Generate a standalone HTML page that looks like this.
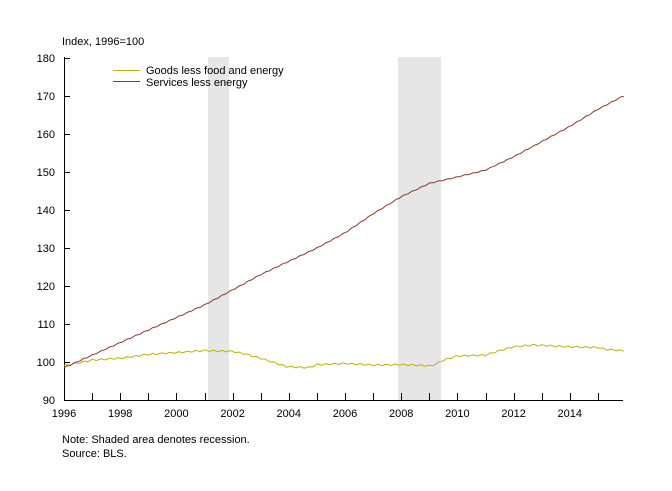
<!DOCTYPE html>
<html><head><meta charset="utf-8"><style>
body{margin:0;background:#fff}
svg{display:block}
text{font-family:"Liberation Sans",Arial,sans-serif;font-size:11px;fill:#000}
</style></head><body>
<svg id="s" width="672" height="491" viewBox="0 0 672 491">
<rect x="208" y="57" width="21" height="343" fill="#e6e6e6"/>
<rect x="398" y="57" width="43" height="343" fill="#e6e6e6"/>
<text x="62" y="45">Index, 1996=100</text>
<line x1="64.5" y1="57" x2="64.5" y2="400" stroke="#000"/>
<line x1="64" y1="400.5" x2="623" y2="400.5" stroke="#000"/>
<g id="yt"></g><g id="xt"></g>
<line x1="113" y1="70.5" x2="140" y2="70.5" stroke="#b8b400"/>
<line x1="113" y1="81.5" x2="140" y2="81.5" stroke="#8b3a2a"/>
<text x="146" y="74">Goods less food and energy</text>
<text x="146" y="86">Services less energy</text>
<polyline id="g" fill="none" stroke="#b8b400" stroke-width="1"/>
<polyline id="sv" fill="none" stroke="#8b3a2a" stroke-width="1"/>
<text x="62" y="443">Note: Shaded area denotes recession.</text>
<text x="62" y="457">Source: BLS.</text>
</svg>
<script>
var NS="http://www.w3.org/2000/svg";
function X(t){return 64+28.1*(t-1996)}
function Y(v){return 400-(v-90)*3.8}
var yt=document.getElementById('yt'),xt=document.getElementById('xt');
for(var v=90;v<=180;v+=10){var y=Y(v);
 var l=document.createElementNS(NS,'line');l.setAttribute('x1',64);l.setAttribute('x2',70);l.setAttribute('y1',y+.5);l.setAttribute('y2',y+.5);l.setAttribute('stroke','#000');yt.appendChild(l);
 var t=document.createElementNS(NS,'text');t.setAttribute('x',55);t.setAttribute('y',y+4);t.setAttribute('text-anchor','end');t.textContent=v;yt.appendChild(t);}
for(var yr=1997;yr<=2015;yr++){var x=Math.round(X(yr))+.5;
 var l=document.createElementNS(NS,'line');l.setAttribute('x1',x);l.setAttribute('x2',x);l.setAttribute('y1',393);l.setAttribute('y2',400);l.setAttribute('stroke','#000');xt.appendChild(l);}
for(var yr=1996;yr<=2014;yr+=2){var t=document.createElementNS(NS,'text');t.setAttribute('x',X(yr));t.setAttribute('y',417);t.setAttribute('text-anchor','middle');t.textContent=yr;xt.appendChild(t);}
function interp(k,t){for(var i=0;i<k.length-1;i++){if(t<=k[i+1][0]){var a=k[i],b=k[i+1];return a[1]+(b[1]-a[1])*(t-a[0])/(b[0]-a[0]);}}return k[k.length-1][1];}
var G=[[1996,99],[1997,100.5],[1998,101],[1999,102],[2000,102.5],[2001,103],[2002,102.8],[2002.5,102],[2003,101],[2003.9,98.8],[2004.7,98.5],[2005,99.3],[2006,99.6],[2007,99.2],[2008,99.3],[2009.1,99],[2009.5,100.5],[2010,101.6],[2011,101.8],[2011.5,103],[2012,104],[2012.7,104.5],[2014,104],[2015,103.8],[2015.3,103.3],[2015.9,103]];
var S=[[1996,98.5],[2001,115],[2002,119],[2003,123],[2004,126.5],[2005,130],[2006,134],[2007,139],[2008,143.5],[2009,147],[2010,148.7],[2011,150.5],[2012,154],[2013,158],[2014,162],[2015,166.5],[2015.9,170]];
var pg=[],ps=[];
for(var m=0;m<=239;m++){var t=1996+m/12;var n=Math.sin(m*1.7)*0.2;
 pg.push(X(t).toFixed(1)+','+Y(interp(G,t)+n).toFixed(1));
 ps.push(X(t).toFixed(1)+','+Y(interp(S,t)+n*0.6).toFixed(1));}
document.getElementById('g').setAttribute('points',pg.join(' '));
document.getElementById('sv').setAttribute('points',ps.join(' '));
</script>
</body></html>
